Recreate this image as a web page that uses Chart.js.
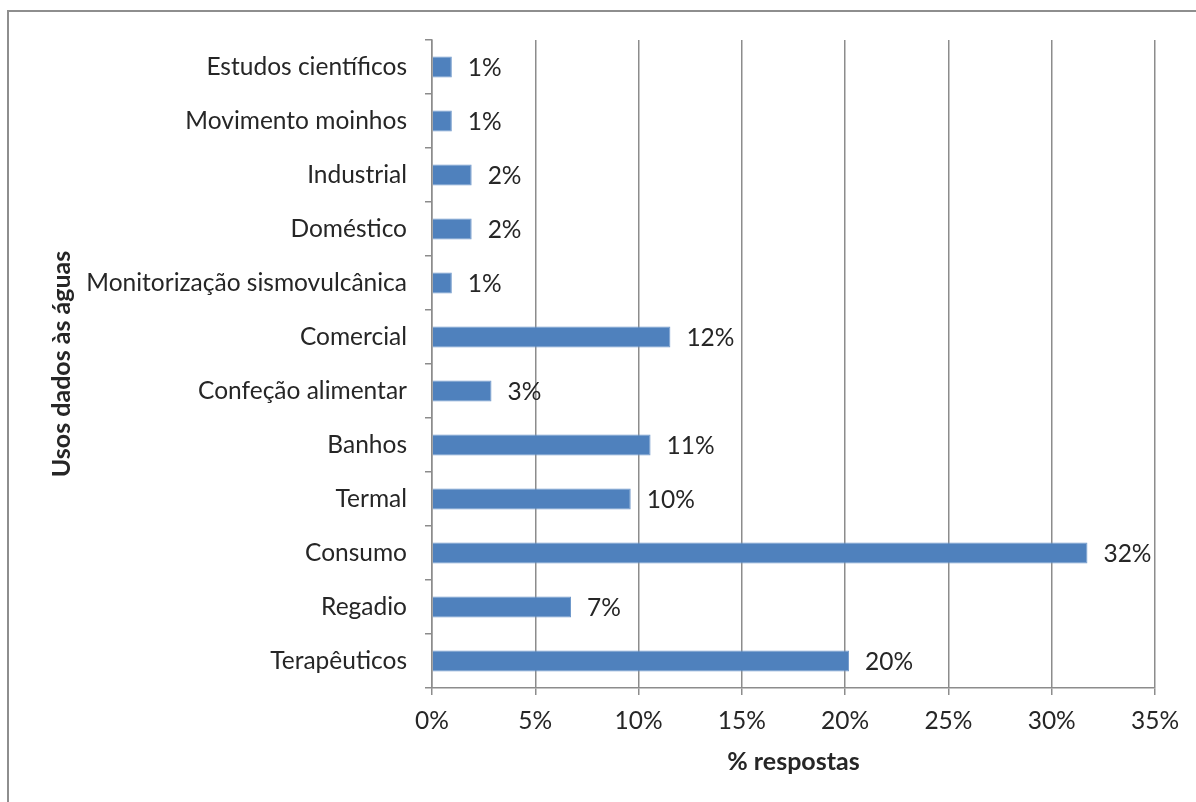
<!DOCTYPE html>
<html>
<head>
<meta charset="utf-8">
<script src="https://cdn.jsdelivr.net/npm/chart.js@4"></script>
<style>
  html, body { margin: 0; padding: 0; background: #fff; overflow: hidden; }
  #frame { position: absolute; left: 7px; top: 10px; width: 1300px; height: 900px; border: 2px solid #8e8e8e; }
  #wrap { position: absolute; left: 0; top: 0; width: 1196px; height: 802px; }
</style>
</head>
<body>
<div id="frame"></div>
<div id="wrap"><canvas id="chart" width="1196" height="802"></canvas></div>
<script>
// Usos dados às águas (de cima para baixo)
const categorias = [
  'Estudos científicos', 'Movimento moinhos', 'Industrial', 'Doméstico',
  'Monitorização sismovulcânica', 'Comercial', 'Confeção alimentar', 'Banhos',
  'Termal', 'Consumo', 'Regadio', 'Terapêuticos'
];
const valores = [0.96, 0.96, 1.92, 1.92, 0.96, 11.54, 2.88, 10.58, 9.62, 31.73, 6.73, 20.19];
const rotulos = ['1%', '1%', '2%', '2%', '1%', '12%', '3%', '11%', '10%', '32%', '7%', '20%'];
const ticksX = [0, 5, 10, 15, 20, 25, 30, 35];

const fonte = 'Lato, "Open Sans", sans-serif';
const corTexto = '#262626';
const corGrelha = '#8c8c8c';

// Rótulos de dados à direita das barras
const rotulosPlugin = {
  id: 'rotulos',
  afterDatasetsDraw(chart) {
    const ctx = chart.ctx;
    const meta = chart.getDatasetMeta(0);
    ctx.save();
    ctx.font = '24.5px ' + fonte;
    ctx.fillStyle = corTexto;
    ctx.textAlign = 'left';
    ctx.textBaseline = 'middle';
    meta.data.forEach((bar, i) => {
      ctx.fillText(rotulos[i], bar.x + 16, bar.y + 1);
    });
    ctx.restore();
  }
};

const ctx = document.getElementById('chart').getContext('2d');
new Chart(ctx, {
  type: 'bar',
  data: {
    labels: categorias,
    datasets: [{
      data: valores,
      backgroundColor: '#4F81BD',
      borderColor: '#7199cb',
      borderWidth: 1,
      barPercentage: 0.39,
      categoryPercentage: 1
    }]
  },
  options: {
    indexAxis: 'y',
    responsive: false,
    animation: false,
    layout: { padding: { top: 40, right: 41, left: 0, bottom: 0 } },
    plugins: { legend: { display: false }, tooltip: { enabled: false } },
    scales: {
      x: {
        min: 0, max: 35,
        afterBuildTicks(axis) { axis.ticks = ticksX.map(v => ({ value: v })); },
        afterFit(axis) { axis.height = 114; },
        ticks: {
          callback: v => v + '%',
          color: corTexto,
          font: { family: fonte, size: 24.5 },
          padding: 11
        },
        grid: { color: corGrelha, lineWidth: 1.5, tickLength: 7 },
        border: { color: corGrelha, width: 1.5 },
        title: {
          display: true, text: '% respostas', color: corTexto,
          font: { family: fonte, size: 25, weight: 'bold' },
          padding: { top: 0, bottom: 25 }
        }
      },
      y: {
        afterFit(axis) { axis.width = 432; },
        ticks: {
          color: corTexto,
          font: { family: fonte, size: 24.5 },
          padding: 18
        },
        grid: { drawOnChartArea: false, color: corGrelha, lineWidth: 1.5, tickLength: 7 },
        border: { color: corGrelha, width: 1.5 },
        title: {
          display: true, text: 'Usos dados às águas', color: corTexto,
          font: { family: fonte, size: 25, weight: 'bold' },
          padding: { top: 47, bottom: 0 }
        }
      }
    }
  },
  plugins: [rotulosPlugin]
});
</script>
</body>
</html>
